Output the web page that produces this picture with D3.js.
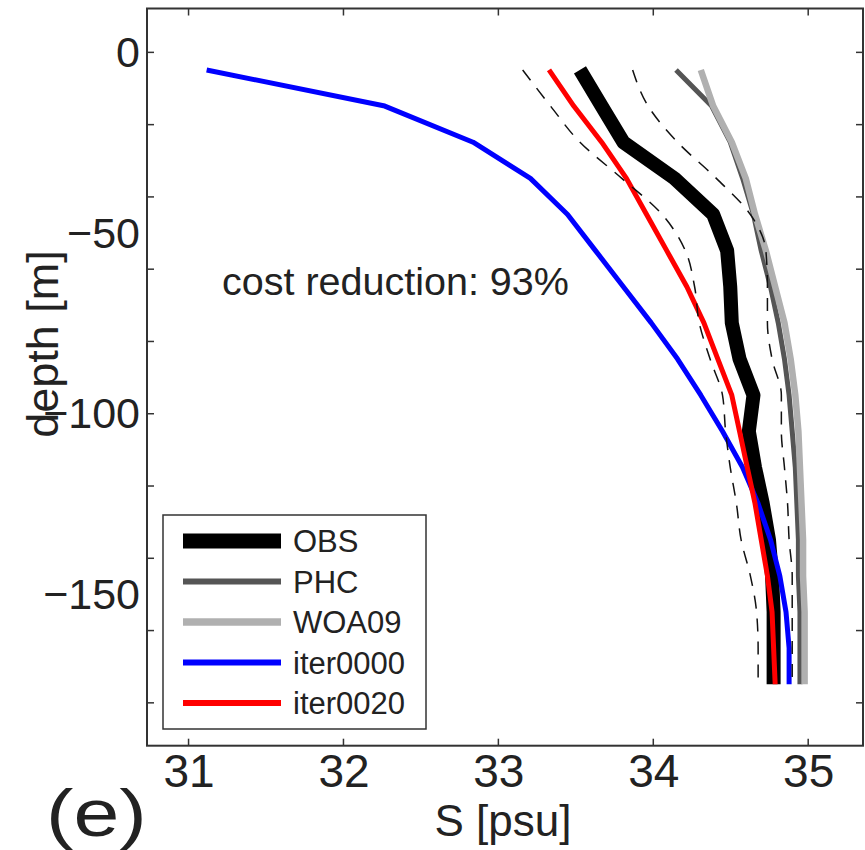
<!DOCTYPE html>
<html>
<head>
<meta charset="utf-8">
<script src="https://cdn.jsdelivr.net/npm/d3@7"></script>
<style>
  body { margin: 0; background: #fff; }
  text { font-family: "Liberation Sans", Arial, sans-serif; fill: #222; }
</style>
</head>
<body>
<div id="chart"></div>
<script>
// depth levels (m) and salinity profiles (psu)
const depths = [-5, -15, -25, -35, -45, -55, -65, -75, -85, -95, -105, -115, -125, -135, -145, -155, -165, -175];
const obs = [33.53, 33.67, 33.81, 34.14, 34.39, 34.48, 34.50, 34.51, 34.56, 34.65, 34.62, 34.66, 34.71, 34.75, 34.77, 34.78, 34.78, 34.78];
const obsLow = [33.16, 33.34, 33.53, 33.80, 34.06, 34.21, 34.27, 34.30, 34.37, 34.45, 34.47, 34.50, 34.54, 34.57, 34.63, 34.67, 34.68, 34.68];
const obsHigh = [33.87, 33.97, 34.16, 34.41, 34.63, 34.73, 34.74, 34.74, 34.77, 34.83, 34.83, 34.85, 34.87, 34.88, 34.90, 34.90, 34.90, 34.90];
const phc = [34.15, 34.38, 34.50, 34.58, 34.65, 34.70, 34.76, 34.81, 34.85, 34.88, 34.90, 34.92, 34.93, 34.94, 34.94, 34.95, 34.95, 34.95];
const woa09 = [34.31, 34.39, 34.51, 34.60, 34.66, 34.73, 34.79, 34.85, 34.89, 34.92, 34.94, 34.95, 34.96, 34.97, 34.97, 34.98, 34.98, 34.98];
const iter0000 = [31.12, 32.27, 32.84, 33.21, 33.45, 33.63, 33.81, 33.99, 34.16, 34.31, 34.45, 34.58, 34.68, 34.76, 34.82, 34.86, 34.88, 34.88];
const iter0020 = [33.33, 33.49, 33.67, 33.83, 33.96, 34.09, 34.22, 34.33, 34.42, 34.51, 34.56, 34.61, 34.66, 34.70, 34.74, 34.77, 34.78, 34.79];

const xTicks = [31, 32, 33, 34, 35];
const yTicks = [0, -20, -40, -60, -80, -100, -120, -140, -160, -180];
const yLabels = [0, -50, -100, -150];

const width = 865, height = 850;
const axLeft = 147, axRight = 863, axTop = 8.5, axBottom = 745.7;

const svg = d3.select("#chart").append("svg")
    .attr("width", width)
    .attr("height", height);

const x = d3.scaleLinear().domain([30.735, 35.357]).range([axLeft, axRight]);
const y = d3.scaleLinear().domain([12, -192]).range([axTop, axBottom]);

const series = [
    { name: "OBS", values: obs, color: "#000000", w: 14 },
    { name: "PHC", values: phc, color: "#555555", w: 5 },
    { name: "WOA09", values: woa09, color: "#b0b0b0", w: 6.5 },
    { name: "iter0000", values: iter0000, color: "#0000ff", w: 5 },
    { name: "iter0020", values: iter0020, color: "#ff0000", w: 5 }
];

const line = d3.line()
    .x(d => x(d[0]))
    .y(d => y(d[1]));
const smoothLine = d3.line()
    .x(d => x(d[0]))
    .y(d => y(d[1]))
    .curve(d3.curveMonotoneY);

const plot = svg.append("g");

series.forEach(s => {
    plot.append("path")
        .datum(s.values.map((v, i) => [v, depths[i]]))
        .attr("d", line)
        .attr("fill", "none")
        .attr("stroke", s.color)
        .attr("stroke-width", s.w)
        .attr("stroke-linejoin", "round");
});

// OBS +/- spread
[obsLow, obsHigh].forEach(vals => {
    plot.append("path")
        .datum(vals.map((v, i) => [v, depths[i]]))
        .attr("d", smoothLine)
        .attr("fill", "none")
        .attr("stroke", "#111")
        .attr("stroke-width", 1.5)
        .attr("stroke-dasharray", "13,10");
});

// axes box with inward ticks on all sides
const tickLen = 7;
svg.append("g").attr("transform", `translate(${axLeft},0)`)
    .call(d3.axisLeft(y).tickValues(yTicks).tickSize(-tickLen).tickFormat(""));
svg.append("g").attr("transform", `translate(${axRight},0)`)
    .call(d3.axisRight(y).tickValues(yTicks).tickSize(-tickLen).tickFormat(""));
svg.append("g").attr("transform", `translate(0,${axBottom})`)
    .call(d3.axisBottom(x).tickValues(xTicks).tickSize(-tickLen).tickFormat(""));
svg.append("g").attr("transform", `translate(0,${axTop})`)
    .call(d3.axisTop(x).tickValues(xTicks).tickSize(-tickLen).tickFormat(""));
svg.selectAll(".domain").remove();
svg.selectAll(".tick line").attr("stroke", "#333").attr("stroke-width", 1.5);

svg.append("rect")
    .attr("x", axLeft).attr("y", axTop)
    .attr("width", axRight - axLeft).attr("height", axBottom - axTop)
    .attr("fill", "none")
    .attr("stroke", "#333")
    .attr("stroke-width", 2);

// tick labels
svg.append("g").selectAll("text")
    .data(xTicks)
    .join("text")
    .attr("x", d => x(d) + 1)
    .attr("y", axBottom + 41)
    .attr("text-anchor", "middle")
    .attr("font-size", "46px")
    .text(d => d);

svg.append("g").selectAll("text")
    .data(yLabels)
    .join("text")
    .attr("x", axLeft - 7)
    .attr("y", d => y(d) + 15)
    .attr("text-anchor", "end")
    .attr("font-size", "43px")
    .text(d => d3.format("d")(d));

// axis titles
svg.append("text")
    .attr("x", 503)
    .attr("y", 836)
    .attr("text-anchor", "middle")
    .attr("font-size", "44px")
    .text("S [psu]");

svg.append("text")
    .attr("transform", `translate(58,344) rotate(-90)`)
    .attr("text-anchor", "middle")
    .attr("font-size", "45px")
    .text("depth [m]");

svg.append("text")
    .attr("transform", "translate(46,836) scale(1.25,1)")
    .attr("font-size", "66px")
    .text("(e)");

svg.append("text")
    .attr("x", 222)
    .attr("y", 295)
    .attr("font-size", "39.5px")
    .text("cost reduction: 93%");

// legend
const legend = svg.append("g").attr("transform", "translate(163,515)");
legend.append("rect")
    .attr("width", 263)
    .attr("height", 214)
    .attr("fill", "#fff")
    .attr("stroke", "#333")
    .attr("stroke-width", 1.5);

series.forEach((s, i) => {
    const row = legend.append("g").attr("transform", `translate(0,${26 + i * 40.5})`);
    row.append("line")
        .attr("x1", 20).attr("x2", 118)
        .attr("stroke", s.color)
        .attr("stroke-width", s.name === "OBS" ? 15 : s.w + 1);
    row.append("text")
        .attr("x", 130)
        .attr("y", 11)
        .attr("font-size", "31px")
        .text(s.name);
});
</script>
</body>
</html>
